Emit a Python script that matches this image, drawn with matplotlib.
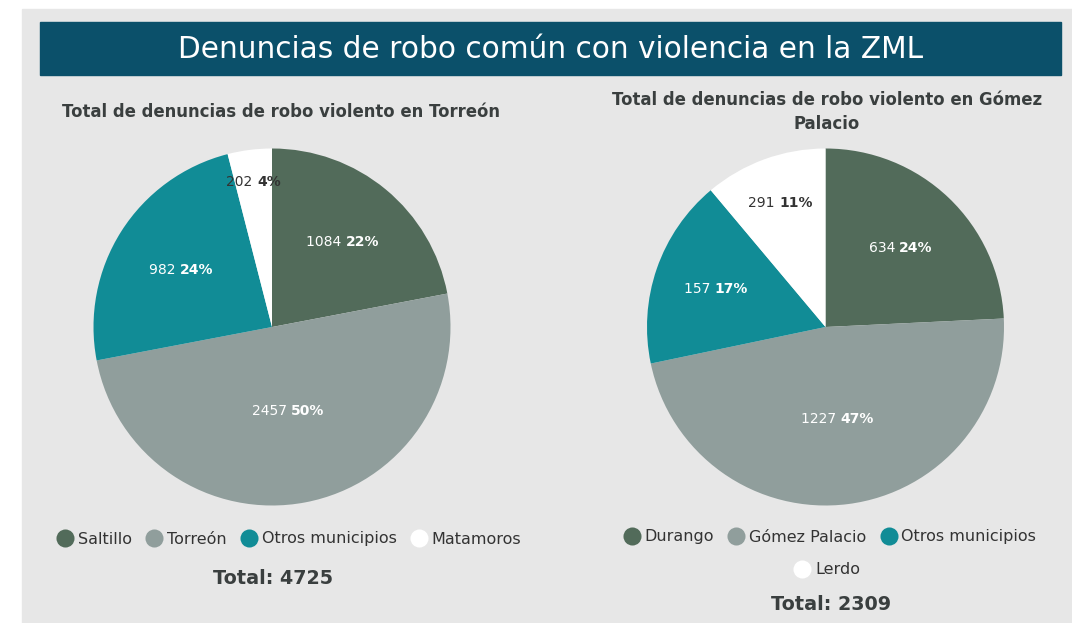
import numpy as np
import matplotlib
matplotlib.use("Agg")
import matplotlib.pyplot as plt
from matplotlib.patches import Rectangle
from matplotlib.lines import Line2D

plt.rcParams['font.family'] = ['DejaVu Sans']

W, H = 1072, 623

# data
title = "Denuncias de robo común con violencia en la ZML"

torreon_title = "Total de denuncias de robo violento en Torreón"
torreon_cats = ["Saltillo", "Torreón", "Otros municipios", "Matamoros"]
torreon_vals = [1084, 2457, 982, 202]
torreon_pct = [22, 50, 24, 4]
torreon_total = 4725

gomez_title = "Total de denuncias de robo violento en Gómez\nPalacio"
gomez_cats = ["Durango", "Gómez Palacio", "Otros municipios", "Lerdo"]
gomez_vals = [634, 1227, 157, 291]
gomez_pct = [24, 47, 17, 11]
gomez_total = 2309

colors = ["#526b5a", "#909e9c", "#118c96", "#ffffff"]
label_colors = ["white", "white", "white", "#333333"]
txt_dark = "#3a3f3f"


def px(x0, y0, w, h):
    # pixel box (top-left origin) -> figure fraction
    return [x0 / W, 1 - (y0 + h) / H, w / W, h / H]


fig = plt.figure(figsize=(W / 100, H / 100), dpi=100)
fig.patch.set_facecolor("white")

# background panel and title banner
fig.patches.append(Rectangle((22 / W, 0), 1 - 22 / W, 1 - 9 / H,
                             transform=fig.transFigure, color="#e7e7e7", zorder=-2))
fig.patches.append(Rectangle((40 / W, 1 - 75 / H), (1061 - 40) / W, 53 / H,
                             transform=fig.transFigure, color="#0b506a", zorder=-1))
fig.text(551 / W, 1 - 49 / H, title, color="white", fontsize=21.3,
         ha="center", va="center")


def draw_pie(cx, cy, r, pct, vals, dists):
    ax = fig.add_axes(px(cx - r, cy - r, 2 * r, 2 * r))
    wedges, _ = ax.pie(pct, colors=colors, startangle=90, counterclock=False,
                       radius=1, wedgeprops=dict(linewidth=0))
    ax.set_xlim(-1, 1)
    ax.set_ylim(-1, 1)
    ax.set_aspect("equal")
    ax.axis("off")
    renderer = fig.canvas.get_renderer()
    for w, v, p, d, c in zip(wedges, vals, pct, dists, label_colors):
        ang = np.deg2rad((w.theta1 + w.theta2) / 2)
        x, y = d * np.cos(ang), d * np.sin(ang)
        t1 = ax.text(x, y, f"{v} ", color=c, fontsize=10, ha="left", va="center")
        t2 = ax.text(x, y, f"{p}%", color=c, fontsize=10, fontweight="bold",
                     ha="left", va="center")
        w1 = t1.get_window_extent(renderer).width
        w2 = t2.get_window_extent(renderer).width
        inv = ax.transData.inverted()
        x0 = ax.transData.transform((x, y))[0] - (w1 + w2) / 2
        t1.set_x(inv.transform((x0, 0))[0])
        t2.set_x(inv.transform((x0 + w1, 0))[0])
    return ax


draw_pie(272, 327, 178.5, torreon_pct, torreon_vals, [0.62, 0.48, 0.60, 0.82])
draw_pie(825.5, 327, 178.5, gomez_pct, gomez_vals, [0.61, 0.52, 0.65, 0.74])

fig.text(281 / W, 1 - 112 / H, torreon_title, color=txt_dark, fontsize=11.9,
         fontweight="bold", ha="center", va="center")
fig.text(827 / W, 1 - 112 / H, gomez_title, color=txt_dark, fontsize=11.9,
         fontweight="bold", ha="center", va="center", linespacing=1.4)


def handles(cats, idx):
    return [Line2D([], [], marker="o", linestyle="none", markersize=13,
                   markerfacecolor=colors[i], markeredgewidth=0) for i in idx], \
           [cats[i] for i in idx]


leg_kw = dict(frameon=False, fontsize=11.5, handletextpad=0.3, columnspacing=0.9,
              labelcolor="#333333", handlelength=1.0, borderpad=0, loc="center")

h, l = handles(torreon_cats, range(4))
fig.legend(h, l, ncol=4, bbox_to_anchor=(289 / W, 1 - 539 / H), **leg_kw)
h, l = handles(gomez_cats, range(3))
fig.legend(h, l, ncol=3, bbox_to_anchor=(830 / W, 1 - 537 / H), **leg_kw)
h, l = handles(gomez_cats, [3])
fig.legend(h, l, ncol=1, bbox_to_anchor=(827 / W, 1 - 570 / H), **leg_kw)

fig.text(273 / W, 1 - 578 / H, f"Total: {torreon_total}", color=txt_dark,
         fontsize=13.8, fontweight="bold", ha="center", va="center")
fig.text(831 / W, 1 - 604 / H, f"Total: {gomez_total}", color=txt_dark,
         fontsize=13.8, fontweight="bold", ha="center", va="center")

fig.savefig("out.png", dpi=100, facecolor=fig.get_facecolor())
